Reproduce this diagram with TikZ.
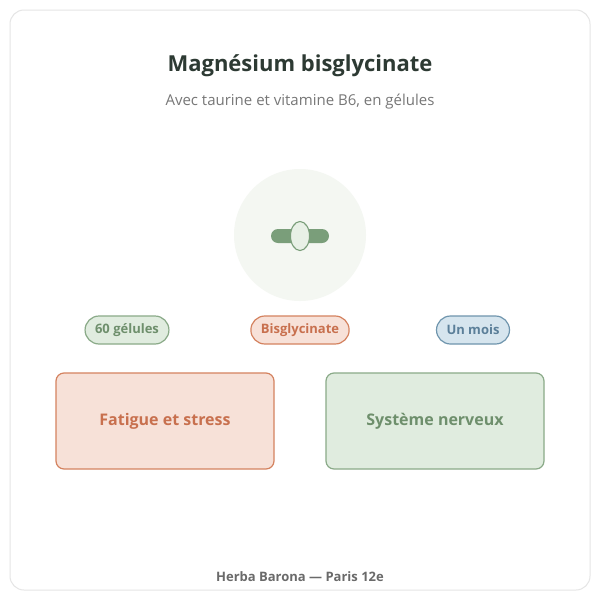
\documentclass[tikz,border=0pt]{standalone}
\usepackage{fontspec}
\setmainfont{Open Sans}
\usetikzlibrary{shapes.geometric}
\begin{document}
\begin{tikzpicture}[x=1pt,y=-1pt,
  pill/.style={line width=1.2pt, rounded corners=14pt, minimum height=28pt, inner xsep=10pt, font=\fontsize{13}{15}\selectfont\bfseries},
  box/.style={line width=1.2pt, rounded corners=8pt, minimum width=218pt, minimum height=96pt, font=\fontsize{16}{19}\selectfont\bfseries}]
\definecolor{gF}{HTML}{E0ECDF}\definecolor{gS}{HTML}{8AAA88}\definecolor{gT}{HTML}{6E8F6C}
\definecolor{oF}{HTML}{F7E1D8}\definecolor{oS}{HTML}{D4825F}\definecolor{oT}{HTML}{C8704E}
\definecolor{bF}{HTML}{D6E5EE}\definecolor{bS}{HTML}{6F95AD}\definecolor{bT}{HTML}{5B7F99}
\definecolor{icF}{HTML}{F4F7F2}\definecolor{capG}{HTML}{7A9E7A}\definecolor{capL}{HTML}{E8F0E6}
\definecolor{tt}{HTML}{2D3A33}\definecolor{st}{HTML}{777777}\definecolor{ft}{HTML}{6A6A6A}
\useasboundingbox (0,0) rectangle (600,600);
\fill[white] (0,0) rectangle (600,600);
\draw[draw=black!10, line width=1pt, rounded corners=14pt, fill=white] (10,10) rectangle (590,590);
\node[text=tt, font=\fontsize{22}{26}\selectfont\bfseries] (title) at (300,66) {Magnésium bisglycinate};
\node[text=st, font=\fontsize{15}{18}\selectfont] (sub) at (300,102) {Avec taurine et vitamine B6, en gélules};
\node[circle, fill=icF, minimum size=132pt, inner sep=0] (ic) at (300,235) {};
\fill[capG, rounded corners=7pt] (271,229) rectangle (329,243);
\node[ellipse, draw=capG, line width=1.1pt, fill=capL, minimum width=19pt, minimum height=29pt, inner sep=0] (cap) at (300,236) {};
\node[pill, draw=gS, fill=gF, text=gT] (p1) at (127,330) {60 gélules};
\node[pill, draw=oS, fill=oF, text=oT] (p2) at (300,330) {Bisglycinate};
\node[pill, draw=bS, fill=bF, text=bT] (p3) at (473,330) {Un mois};
\node[box, draw=oS, fill=oF, text=oT] (b1) at (165,421) {Fatigue et stress};
\node[box, draw=gS, fill=gF, text=gT] (b2) at (435,421) {Système nerveux};
\node[text=ft, font=\fontsize{13}{15}\selectfont\bfseries] (foot) at (300,577) {Herba Barona — Paris 12e};
\end{tikzpicture}
\end{document}
